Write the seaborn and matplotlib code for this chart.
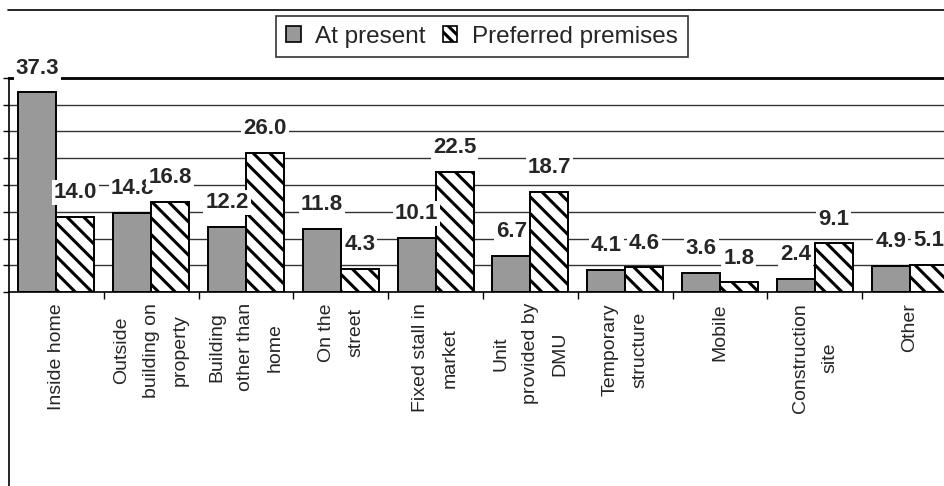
import matplotlib
matplotlib.use("Agg")
import matplotlib.pyplot as plt
import seaborn as sns
import pandas as pd
from matplotlib.lines import Line2D
from matplotlib.patches import Patch

categories = ["Inside home", "Outside\nbuilding on\nproperty", "Building\nother than\nhome",
              "On the\nstreet", "Fixed stall in\nmarket", "Unit\nprovided by\nDMU",
              "Temporary\nstructure", "Mobile", "Construction\nsite", "Other"]
at_present = [37.3, 14.8, 12.2, 11.8, 10.1, 6.7, 4.1, 3.6, 2.4, 4.9]
preferred = [14.0, 16.8, 26.0, 4.3, 22.5, 18.7, 4.6, 1.8, 9.1, 5.1]
series = ["At present", "Preferred premises"]

df = pd.DataFrame({
    "category": categories * 2,
    "value": at_present + preferred,
    "series": [series[0]] * len(categories) + [series[1]] * len(categories),
})

sns.set_style("white")
plt.rcParams["font.family"] = ["Liberation Sans", "DejaVu Sans"]
plt.rcParams["hatch.linewidth"] = 2.2

fig = plt.figure(figsize=(9.45, 4.86), dpi=100)
ax = fig.add_axes([9 / 945, 1 - 292 / 486, 948 / 945, 214 / 486])

sns.barplot(data=df, x="category", y="value", hue="series", order=categories,
            hue_order=series, palette=["#999999", "white"], width=0.8,
            edgecolor="black", linewidth=1.4, legend=False, ax=ax, zorder=2)

for bar in ax.containers[1]:
    bar.set_hatch("\\\\")
    bar.set_facecolor("white")

for cont in ax.containers:
    for bar in cont:
        h = bar.get_height()
        ax.annotate(f"{h:.1f}", (bar.get_x() + bar.get_width() / 2, h),
                    xytext=(0, 17.5), textcoords="offset points",
                    ha="center", va="center", fontsize=16, fontweight="bold",
                    bbox=dict(facecolor="white", edgecolor="none", pad=1.5),
                    zorder=5)

ax.set_xlim(-0.5, len(categories) - 0.5)
ax.set_ylim(0, 40)
ax.set_yticks(range(0, 41, 5))
ax.set_yticklabels([])
ax.yaxis.grid(True, color="#333333", linewidth=1)
ax.set_axisbelow(True)
ax.tick_params(axis="y", left=True, length=4, width=1, color="black", direction="out")

ax.set_xticks(range(len(categories)))
ax.set_xticklabels(categories, rotation=90, ha="center", va="top",
                   fontsize=14, linespacing=1.95, multialignment="center")
ax.tick_params(axis="x", length=0, pad=8)
ax.set_xticks([i + 0.5 for i in range(len(categories) - 1)], minor=True)
ax.tick_params(axis="x", which="minor", bottom=True, length=5, width=1,
               color="black", direction="out")
ax.set_xlabel("")
ax.set_ylabel("")

for side in ["left", "bottom"]:
    ax.spines[side].set_color("black")
    ax.spines[side].set_linewidth(1.2)
ax.spines["top"].set_color("black")
ax.spines["top"].set_linewidth(2)
ax.spines["right"].set_visible(False)

fig.add_artist(Line2D([9 / 945, 9 / 945], [0, 1 - 292 / 486], color="black", linewidth=1.2))
fig.add_artist(Line2D([8 / 945, 1], [1 - 10 / 486, 1 - 10 / 486], color="black", linewidth=1.2))

handles = [Patch(facecolor="#999999", edgecolor="black", linewidth=1.2),
           Patch(facecolor="white", edgecolor="black", linewidth=1.2, hatch="\\\\\\")]
leg = fig.legend(handles, series, loc="center", bbox_to_anchor=(482 / 945, 1 - 36.5 / 486),
                 ncol=2, fontsize=17.5, frameon=True, fancybox=False,
                 handlelength=0.6, handleheight=0.6, handletextpad=0.6,
                 columnspacing=0.7, borderpad=0.4)
leg.get_frame().set_edgecolor("black")
leg.get_frame().set_linewidth(1.2)

fig.savefig("out.png", dpi=100)
